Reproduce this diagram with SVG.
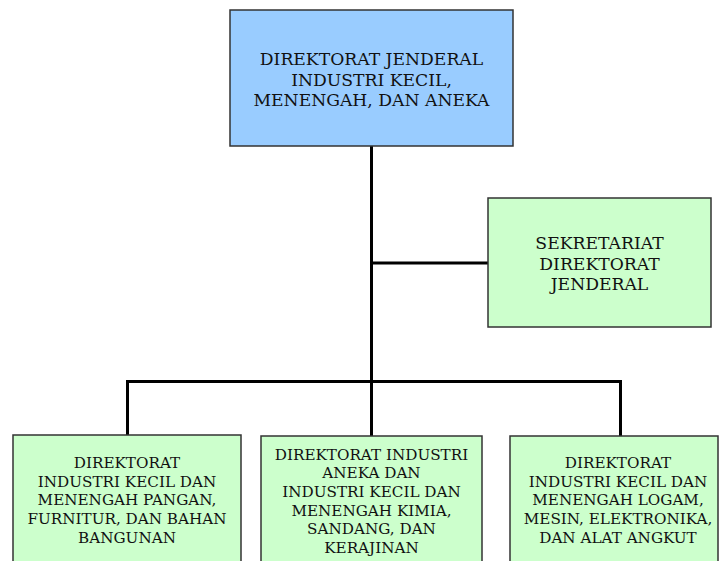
<svg xmlns="http://www.w3.org/2000/svg" width="720" height="561" viewBox="0 0 720 561">
<style>
.box{stroke:#333;stroke-width:1.5}
.blue{fill:#99CCFF}
.green{fill:#CCFFCC}
.t{font-family:"DejaVu Serif","Liberation Serif",serif;font-size:15.2px;fill:#111;text-anchor:middle}
.big{font-size:17.2px}
.c{stroke:#000;stroke-width:3;fill:none}
</style>
<rect width="720" height="561" fill="#fff"/>
<g id="connectors">
<line class="c" x1="371.5" y1="146" x2="371.5" y2="436"/>
<line class="c" x1="371.5" y1="263" x2="488" y2="263"/>
<polyline class="c" points="127.5,435 127.5,381.5 620.5,381.5 620.5,436"/>
</g>
<g id="dirjen">
<rect class="box blue" x="230" y="10" width="283" height="136"/>
<text class="t big" x="371.5" y="65">DIREKTORAT JENDERAL</text>
<text class="t big" x="371.5" y="85.5">INDUSTRI KECIL,</text>
<text class="t big" x="371.5" y="106">MENENGAH, DAN ANEKA</text>
</g>
<g id="sekretariat">
<rect class="box green" x="488" y="198" width="223" height="129"/>
<text class="t big" x="599.5" y="249">SEKRETARIAT</text>
<text class="t big" x="599.5" y="269.5">DIREKTORAT</text>
<text class="t big" x="599.5" y="290">JENDERAL</text>
</g>
<g id="dir-pangan">
<rect class="box green" x="13" y="435" width="228" height="140"/>
<text class="t" x="127" y="468">DIREKTORAT</text>
<text class="t" x="127" y="486.7">INDUSTRI KECIL DAN</text>
<text class="t" x="127" y="505.4">MENENGAH PANGAN,</text>
<text class="t" x="127" y="524.1">FURNITUR, DAN BAHAN</text>
<text class="t" x="127" y="542.8">BANGUNAN</text>
</g>
<g id="dir-kimia">
<rect class="box green" x="261" y="436" width="221" height="140"/>
<text class="t" x="371.5" y="459.5">DIREKTORAT INDUSTRI</text>
<text class="t" x="371.5" y="478.2">ANEKA DAN</text>
<text class="t" x="371.5" y="496.9">INDUSTRI KECIL DAN</text>
<text class="t" x="371.5" y="515.6">MENENGAH KIMIA,</text>
<text class="t" x="371.5" y="534.3">SANDANG, DAN</text>
<text class="t" x="371.5" y="553">KERAJINAN</text>
</g>
<g id="dir-logam">
<rect class="box green" x="510" y="436" width="208" height="140"/>
<text class="t" x="618" y="468">DIREKTORAT</text>
<text class="t" x="618" y="486.7">INDUSTRI KECIL DAN</text>
<text class="t" x="618" y="505.4">MENENGAH LOGAM,</text>
<text class="t" x="618" y="524.1">MESIN, ELEKTRONIKA,</text>
<text class="t" x="618" y="542.8">DAN ALAT ANGKUT</text>
</g>
</svg>
